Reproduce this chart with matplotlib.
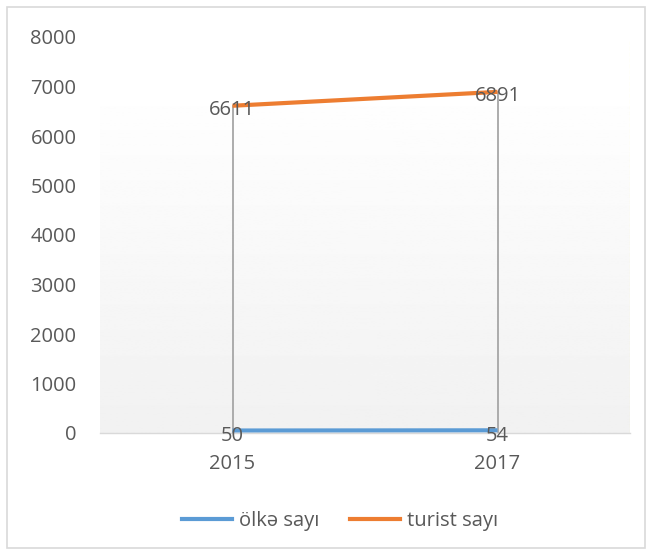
import matplotlib.pyplot as plt
from matplotlib.patches import Rectangle
from matplotlib.lines import Line2D
import numpy as np

years = ['2015', '2017']
olke_sayi = [50, 54]
turist_sayi = [6611, 6891]
yticks = [0, 1000, 2000, 3000, 4000, 5000, 6000, 7000, 8000]

plt.rcParams['font.family'] = ['Open Sans', 'DejaVu Sans']
txt = '#595959'
fs = 14.5

fig = plt.figure(figsize=(6.5, 5.54), dpi=100)
fig.patches.append(Rectangle((7 / 650, 6 / 554), 638 / 650, 541 / 554, transform=fig.transFigure,
                             fill=False, edgecolor='#d9d9d9', linewidth=1.2))

ax = fig.add_axes([100 / 650, (554 - 433) / 554, 530 / 650, (433 - 37) / 554])
x = np.arange(len(years))
ax.set_xlim(-0.5, 1.5)
ax.set_ylim(0, 8000)

# gradient plot area background
grad = np.linspace(1.0, 0.945, 256).reshape(-1, 1)
ax.imshow(grad, extent=(-0.5, 1.5, 0, 7130), aspect='auto', cmap='gray', vmin=0, vmax=1,
          origin='upper', zorder=0)

# drop lines
for xi, yi in zip(x, turist_sayi):
    ax.plot([xi, xi], [0, yi], color='#a6a6a6', linewidth=1.3, zorder=1)

ax.plot(x, olke_sayi, color='#5B9BD5', linewidth=3, solid_capstyle='butt', zorder=2)
ax.plot(x, turist_sayi, color='#ED7D31', linewidth=3, solid_capstyle='butt', zorder=2)

for xi, yi in zip(x, olke_sayi):
    ax.text(xi, yi - 110, str(yi), ha='center', va='center', fontsize=fs, color=txt, zorder=3)
for xi, yi in zip(x, turist_sayi):
    ax.text(xi, yi - 90, str(yi), ha='center', va='center', fontsize=fs, color=txt, zorder=3)

ax.set_xticks(x)
ax.set_xticklabels(years)
ax.set_yticks(yticks)
ax.tick_params(axis='both', length=0, labelsize=fs, labelcolor=txt)
ax.tick_params(axis='x', pad=15)
ax.tick_params(axis='y', pad=17)
for s in ['top', 'right', 'left']:
    ax.spines[s].set_visible(False)
ax.spines['bottom'].set_color('#d9d9d9')
ax.spines['bottom'].set_linewidth(1)
ax.axvline(1.5, color='#ffff99', linewidth=0.8, linestyle='--', ymin=0, ymax=0.99, zorder=1)

handles = [Line2D([], [], color='#5B9BD5', linewidth=3),
           Line2D([], [], color='#ED7D31', linewidth=3)]
fig.legend(handles, ['ölkə sayı', 'turist sayı'], loc='center', bbox_to_anchor=(340 / 650, 1 - 521 / 554),
           ncol=2, frameon=False, fontsize=fs, labelcolor=txt, handlelength=2.5, columnspacing=1.5,
           handletextpad=0.35)

fig.savefig('out.png', dpi=100)
